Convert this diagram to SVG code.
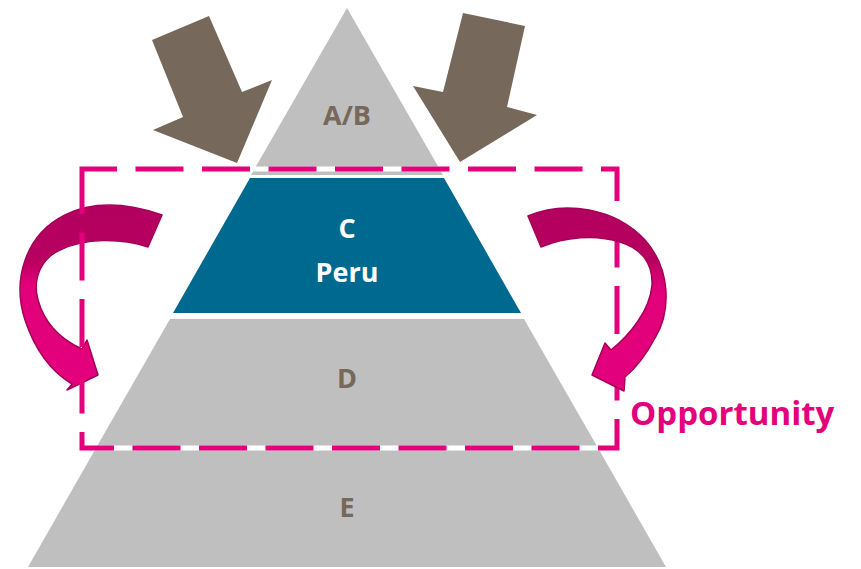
<svg xmlns="http://www.w3.org/2000/svg" width="861" height="569" viewBox="0 0 861 569">
  <style>
    .gray { fill: #BFBFBF; }
    .blue { fill: #00698F; }
    .lbl { font-family: "Open Sans", "Liberation Sans", sans-serif; font-weight: 700; font-size: 27px; text-anchor: middle; }
    .brownTxt { fill: #76685A; }
    .whiteTxt { fill: #FFFFFF; }
    .brownArrow { fill: #76685A; }
    .curve { stroke: #A3005A; stroke-width: 1.5; stroke-linejoin: round; }
    .gapLine { stroke: #FFFFFF; stroke-width: 5; fill: none; }
    .dash { stroke: #E4007C; stroke-width: 5; fill: none; stroke-dasharray: 48 18.5; stroke-linejoin: miter; }
    .opp { font-family: "Open Sans", "Liberation Sans", sans-serif; font-weight: 700; font-size: 33px; fill: #E4007C; }
  </style>
  <defs>
    <linearGradient id="gradL" gradientUnits="userSpaceOnUse" x1="0" y1="205" x2="0" y2="392">
      <stop offset="0" stop-color="#B3005E"/>
      <stop offset="0.3" stop-color="#B8005F"/>
      <stop offset="0.42" stop-color="#E2007A"/>
      <stop offset="1" stop-color="#E4007C"/>
    </linearGradient>
    <linearGradient id="gradR" gradientUnits="userSpaceOnUse" x1="0" y1="205" x2="0" y2="392">
      <stop offset="0" stop-color="#B3005E"/>
      <stop offset="0.3" stop-color="#B8005F"/>
      <stop offset="0.45" stop-color="#E2007A"/>
      <stop offset="1" stop-color="#E4007C"/>
    </linearGradient>
  </defs>

  <g id="layer-E">
    <polygon class="gray" points="96,448 598,448 666,567 28,567"/>
    <text class="lbl brownTxt" x="347" y="517">E</text>
  </g>
  <g id="layer-D">
    <polygon class="gray" points="170,319 524,319 598,448 96,448"/>
    <text class="lbl brownTxt" x="347" y="388">D</text>
  </g>
  <g id="layer-C">
    <polygon class="blue" points="250,178 444,178 521,313 173,313"/>
    <text class="lbl whiteTxt" x="347" y="238">C</text>
    <text class="lbl whiteTxt" x="347" y="282">Peru</text>
  </g>
  <g id="layer-AB">
    <polygon class="gray" points="347,8 443,175 251,175"/>
    <text class="lbl brownTxt" x="347" y="125">A/B</text>
  </g>

  <g id="connectors">
    <polygon id="arrow-in-left" class="brownArrow" points="152,40 209,16 242,92 272,80 237,163 153,130 183,117"/>
    <polygon id="arrow-in-right" class="brownArrow" points="463,13 525,26 507,107 537,115 460,162 413,86 443,92"/>
    <path id="arrow-curve-left" class="curve" fill="url(#gradL)" d="M162,215 C130,204 95,200 65,215 C25,235 12,280 25,320 C35,350 52,372 72,384 L67,390 L98,375 L87,340 L82,349 C62,340 45,325 38,300 C32,278 42,258 60,250 C85,238 120,238 148,247 Z"/>
  </g>

  <g id="opportunity">
    <line class="gapLine" x1="82" y1="169" x2="617" y2="169"/>
    <line class="gapLine" x1="82" y1="448" x2="617" y2="448"/>
    <path class="dash" d="M82,182 L82,169 L617,169 L617,448 L82,448 Z"/>
    <text class="opp" x="630" y="425">Opportunity</text>
  </g>

  <g id="connectors-front">
    <path id="arrow-curve-right" class="curve" fill="url(#gradR)" d="M528,216 C565,200 615,208 645,240 C670,268 672,310 655,338 C646,355 636,368 625,377 L624,391 L592,375 L605,343 L611,350 C630,335 650,310 652,285 C653,262 640,248 620,242 C595,234 565,237 541,247 Z"/>
  </g>
</svg>
